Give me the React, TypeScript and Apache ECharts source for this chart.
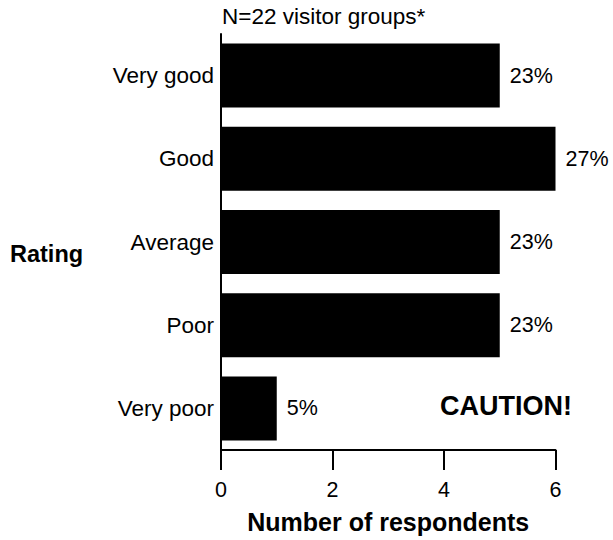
import React, { useEffect, useRef } from "react";
import * as echarts from "echarts";

const categories = ["Very good", "Good", "Average", "Poor", "Very poor"];
const counts = [5, 6, 5, 5, 1];
const percentLabels = ["23%", "27%", "23%", "23%", "5%"];
const xTicks = { min: 0, max: 6, interval: 2 };

const FONT = "'Liberation Sans', Arial, sans-serif";

export default function App() {
  const ref = useRef<HTMLDivElement>(null);
  useEffect(() => {
    if (!ref.current) return;
    const chart = echarts.init(ref.current, null, { renderer: "svg" });
    chart.setOption({
      animation: false,
      backgroundColor: "#ffffff",
      textStyle: { fontFamily: FONT, color: "#000" },
      grid: { left: 221, right: 57.5, top: 34, bottom: 90, containLabel: false },
      xAxis: {
        type: "value",
        min: xTicks.min,
        max: xTicks.max,
        interval: xTicks.interval,
        splitLine: { show: false },
        axisLine: { show: true, lineStyle: { color: "#000", width: 2 } },
        axisTick: { show: true, length: 20, lineStyle: { color: "#000", width: 2 } },
        axisLabel: { color: "#000", fontSize: 21.5, fontFamily: FONT, margin: 29 },
        name: "Number of respondents",
        nameLocation: "middle",
        nameGap: 59,
        nameTextStyle: { color: "#000", fontSize: 25, fontWeight: "bold", fontFamily: FONT },
      },
      yAxis: {
        type: "category",
        data: categories,
        inverse: true,
        axisLine: { show: true, lineStyle: { color: "#000", width: 2 } },
        axisTick: { show: false },
        axisLabel: { color: "#000", fontSize: 22.5, fontFamily: FONT, margin: 7 },
        splitLine: { show: false },
      },
      series: [
        {
          type: "bar",
          data: counts,
          barWidth: 64,
          itemStyle: { color: "#000" },
          label: {
            show: true,
            position: "right",
            distance: 10,
            color: "#000",
            fontSize: 21.5,
            fontFamily: FONT,
            formatter: (p: any) => percentLabels[p.dataIndex],
          },
        },
      ],
      graphic: [
        {
          type: "text",
          left: 222,
          top: 5,
          style: { text: "N=22 visitor groups*", fontSize: 22.5, fontFamily: FONT, fill: "#000" },
        },
        {
          type: "text",
          left: 10,
          top: 242,
          style: { text: "Rating", fontSize: 23.5, fontWeight: "bold", fontFamily: FONT, fill: "#000" },
        },
        {
          type: "text",
          left: 440,
          top: 392,
          style: { text: "CAUTION!", fontSize: 27, fontWeight: "bold", fontFamily: FONT, fill: "#000" },
        },
      ],
    });
    return () => chart.dispose();
  }, []);
  return <div ref={ref} style={{ width: 613, height: 540, position: "absolute", left: 0, top: 0 }} />;
}
